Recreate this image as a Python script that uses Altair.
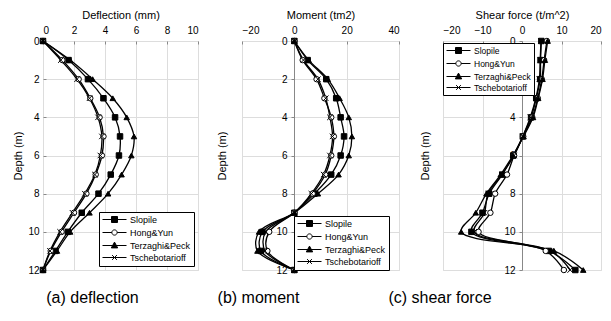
import altair as alt
import pandas as pd

depth = list(range(13))
series = ["Slopile", "Hong&Yun", "Terzaghi&Peck", "Tschebotarioff"]

# (a) deflection (mm)
defl_slopile = [0, 1.65, 2.9, 3.9, 4.65, 4.97, 4.9, 4.37, 3.58, 2.5, 1.6, 0.8, 0]
defl_hong = [0, 1.25, 2.3, 3.05, 3.65, 3.9, 3.8, 3.4, 2.8, 2.0, 1.2, 0.5, 0]
defl_terz = [0, 1.75, 3.2, 4.5, 5.4, 5.87, 5.7, 5.07, 4.2, 3.0, 1.75, 0.9, 0]
defl_tsch = [0, 1.15, 2.2, 3.0, 3.55, 3.8, 3.7, 3.35, 2.7, 1.9, 1.1, 0.45, 0]

# (b) moment (tm2)
mom_slopile = [0, 5.1, 12.2, 16.0, 17.7, 19.0, 17.7, 14.1, 7.7, 0, -12.2, -12.8, 0]
mom_hong = [0, 3.2, 8.5, 11.5, 14.1, 15.1, 14.1, 11.8, 7.0, 0, -9.6, -10.3, 0]
mom_terz = [0, 5.5, 12.8, 17.3, 20.8, 22.0, 20.8, 16.9, 9.0, 0, -13.5, -14.1, 0]
mom_tsch = [0, 3.5, 9.0, 12.0, 13.6, 14.6, 13.6, 11.2, 6.5, 0, -11.0, -11.2, 0]

# (c) shear force (t/m^2)
shr_slopile = [4.9, 4.7, 4.6, 3.6, 2.3, 0.2, -2.2, -5.0, -8.3, -10.0, -12.8, 6.8, 13.5]
shr_hong = [6.3, 5.6, 5.0, 4.0, 2.6, 0.3, -2.0, -3.8, -6.8, -8.0, -11.0, 6.0, 10.6]
shr_terz = [6.5, 5.8, 5.2, 4.1, 2.8, 0.4, -2.3, -5.4, -9.0, -11.7, -15.4, 8.1, 15.5]
shr_tsch = [4.8, 4.6, 4.4, 3.5, 2.1, 0.2, -2.0, -5.1, -8.6, -9.5, -12.1, 7.3, 12.2]

depth_ticks = [0, 2, 4, 6, 8, 10, 12]

marker_shapes = ["square", "circle", "triangle-up", "M-1,-1L1,1M-1,1L1,-1"]
legend_shapes = [
    "M-3,0H3M-0.75,-0.75H0.75V0.75H-0.75Z",
    "M-3,0H-0.66M0.66,0H3M-0.66,0A0.66,0.66 0 1,0 0.66,0A0.66,0.66 0 1,0 -0.66,0Z",
    "M-3,0H3M0,-0.85L0.8,0.6H-0.8Z",
    "M-3,0H3M-0.6,-0.6L0.6,0.6M-0.6,0.6L0.6,-0.6",
]
fills = ["black", "white", "black", "black"]
strokes = ["black", "black", "black", "black"]

FONT = "Liberation Sans"


def make_df(vals_list):
    rows = []
    for name, vals in zip(series, vals_list):
        for d, v in zip(depth, vals):
            rows.append({"series": name, "depth": d, "value": v})
    return pd.DataFrame(rows)


def panel(df, xdomain, xvalues, xtitle, width, caption, dx,
          yoffset, ytitlex, legx, legy, legfont):
    yaxis_kw = dict(values=depth_ticks, title="Depth (m)", tickSize=3,
                    labelPadding=4, titlePadding=4, titleFontWeight="normal")
    if yoffset is None:
        yaxis_kw.update(offset=-3, domain=False)
    else:
        yaxis_kw.update(offset=yoffset, domain=True, titleX=ytitlex)
    x = alt.X("value:Q",
              scale=alt.Scale(domain=xdomain, nice=False, zero=False),
              axis=alt.Axis(orient="top", values=xvalues, title=xtitle,
                            offset=-3, domain=False, tickSize=3,
                            labelPadding=6, titlePadding=5,
                            titleFontWeight="normal"))
    y = alt.Y("depth:Q",
              scale=alt.Scale(domain=[0, 12], reverse=True, nice=False),
              axis=alt.Axis(**yaxis_kw))
    line = alt.Chart(df).mark_line(
        interpolate="catmull-rom", color="black", strokeWidth=1.3
    ).encode(x=x, y=y, detail="series:N", order="depth:Q")
    pts = alt.Chart(df).mark_point(
        filled=False, stroke="black", strokeWidth=1, size=30, opacity=1
    ).encode(
        x=x, y=y,
        shape=alt.Shape("series:N", scale=alt.Scale(domain=series, range=marker_shapes), legend=None),
        fill=alt.Fill("series:N", scale=alt.Scale(domain=series, range=fills), legend=None),
    )
    legend = alt.Legend(
        title=None, orient="none", legendX=legx, legendY=legy,
        symbolSize=64, symbolOffset=8, symbolStrokeWidth=1,
        labelFont=FONT, labelFontSize=legfont, labelColor="black", labelOffset=11,
        strokeColor="black", fillColor="white", padding=3, rowPadding=2,
    )
    leg = alt.Chart(df).transform_filter("false").mark_point(
        strokeWidth=1, opacity=1
    ).encode(
        shape=alt.Shape("series:N", scale=alt.Scale(domain=series, range=legend_shapes), legend=legend),
        fill=alt.Fill("series:N", scale=alt.Scale(domain=series, range=fills), legend=legend),
        stroke=alt.Stroke("series:N", scale=alt.Scale(domain=series, range=strokes), legend=legend),
    )
    return alt.layer(line, pts, leg).resolve_scale(
        shape="independent", fill="independent", stroke="independent"
    ).properties(
        width=width, height=229,
        title=alt.TitleParams(caption, orient="bottom", anchor="middle", frame="group",
                              fontSize=16, font=FONT, fontWeight="normal",
                              color="black", offset=15, dx=dx),
    )


pa = panel(make_df([defl_slopile, defl_hong, defl_terz, defl_tsch]),
           [0, 10], [0, 2, 4, 6, 8, 10], "Deflection (mm)", 155,
           "(a) deflection", -28, None, None, 56, 171, 9)
pb = panel(make_df([mom_slopile, mom_hong, mom_terz, mom_tsch]),
           [-20, 40], [-20, 0, 20, 40], "Moment (tm2)", 157,
           "(b) moment", -62, -52, -67, 52, 175, 9)
pc = panel(make_df([shr_slopile, shr_hong, shr_terz, shr_tsch]),
           [-20, 20], [-20, -10, 0, 10, 20], "Shear force (t/m^2)", 158,
           "(c) shear force", -82, -79, -92, 0, 2, 8.5)

chart = alt.hconcat(pa, pb, pc, spacing=44, bounds="flush").properties(
    padding={"left": 12, "top": 8, "right": 2, "bottom": 2}
).configure_view(
    stroke="black", strokeWidth=1
).configure_axis(
    labelFont=FONT, titleFont=FONT, labelFontSize=9, titleFontSize=9,
    titleFontWeight="normal", labelColor="black", titleColor="black",
    domainColor="black", tickColor="black", grid=False
).configure(background="white")

chart.save("out.html", embed_options={"renderer": "svg", "actions": False})
